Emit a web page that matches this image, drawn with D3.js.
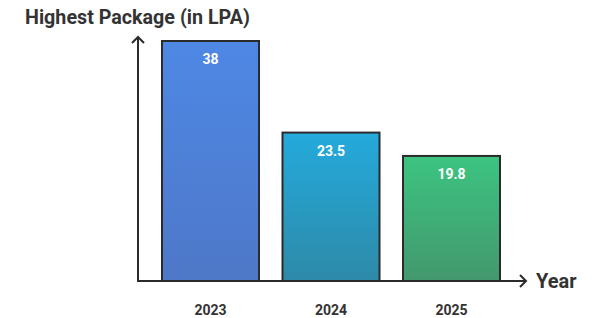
<!DOCTYPE html>
<html>
<head>
<meta charset="utf-8">
<script src="https://cdn.jsdelivr.net/npm/d3@7"></script>
<style>
  body { margin: 0; background: #fff; }
  text { font-family: Roboto, "Noto Sans", sans-serif; font-weight: 700; }
</style>
</head>
<body>
<svg></svg>
<script>
/* data */
var years = ["2023", "2024", "2025"];
var packages = [38, 23.5, 19.8];
var valueLabels = ["38", "23.5", "19.8"];
var topColors = ["#4e88e5", "#24aadc", "#3cc481"];
var bottomColors = ["#4e78c8", "#2d8aa8", "#43986d"];

/* svg setting */
var svgWidth = 602;
var svgHeight = 318;
var baseY = 281;
var axisX = 138;
var ink = "#2b2b2b";

var svg = d3.select("svg")
    .attr("width", svgWidth)
    .attr("height", svgHeight);

var scale = {};
scale.x = d3.scaleBand()
    .domain(years)
    .range([162, 500])
    .paddingInner(0.195)
    .paddingOuter(0);
scale.y = d3.scaleLinear()
    .domain([0, 38])
    .range([baseY, 41]);

/* gradients */
var defs = svg.append("defs");
years.forEach(function(y, i){
  var grad = defs.append("linearGradient")
      .attr("id", "grad" + i)
      .attr("x1", 0).attr("y1", 0)
      .attr("x2", 0).attr("y2", 1);
  grad.append("stop").attr("offset", "0%").attr("stop-color", topColors[i]);
  grad.append("stop").attr("offset", "100%").attr("stop-color", bottomColors[i]);
});

/* title */
svg.append("text")
    .attr("x", 25)
    .attr("y", 24)
    .attr("font-size", 19.7)
    .attr("fill", "#333")
    .text("Highest Package (in LPA)");

/* bars */
svg.selectAll(".bar")
    .data(packages)
    .enter()
    .append("rect")
    .attr("class", "bar")
    .attr("x", function(d, i){ return scale.x(years[i]); })
    .attr("y", function(d){ return scale.y(d); })
    .attr("width", scale.x.bandwidth())
    .attr("height", function(d){ return baseY - scale.y(d); })
    .attr("fill", function(d, i){ return "url(#grad" + i + ")"; })
    .attr("stroke", ink)
    .attr("stroke-width", 2);

/* value labels */
svg.selectAll(".val")
    .data(packages)
    .enter()
    .append("text")
    .attr("class", "val")
    .attr("x", function(d, i){ return scale.x(years[i]) + scale.x.bandwidth() / 2; })
    .attr("y", function(d){ return scale.y(d) + 23; })
    .attr("text-anchor", "middle")
    .attr("font-size", 14)
    .attr("fill", "#fff")
    .text(function(d, i){ return valueLabels[i]; });

/* category labels */
svg.selectAll(".cat")
    .data(years)
    .enter()
    .append("text")
    .attr("class", "cat")
    .attr("x", function(d){ return scale.x(d) + scale.x.bandwidth() / 2; })
    .attr("y", 315)
    .attr("text-anchor", "middle")
    .attr("font-size", 14)
    .attr("fill", "#333")
    .text(function(d){ return d; });

/* axes with arrows */
var axes = svg.append("g")
    .attr("stroke", ink)
    .attr("stroke-width", 2)
    .attr("fill", "none");
axes.append("line")
    .attr("x1", axisX).attr("y1", baseY)
    .attr("x2", axisX).attr("y2", 37);
axes.append("path")
    .attr("d", "M" + (axisX - 6) + ",43 L" + axisX + ",37 L" + (axisX + 6) + ",43");
axes.append("line")
    .attr("x1", axisX - 1).attr("y1", baseY)
    .attr("x2", 526).attr("y2", baseY);
axes.append("path")
    .attr("d", "M520," + (baseY - 6) + " L526," + baseY + " L520," + (baseY + 6));

svg.append("text")
    .attr("x", 536)
    .attr("y", 288)
    .attr("font-size", 20)
    .attr("fill", "#333")
    .text("Year");
</script>
</body>
</html>
